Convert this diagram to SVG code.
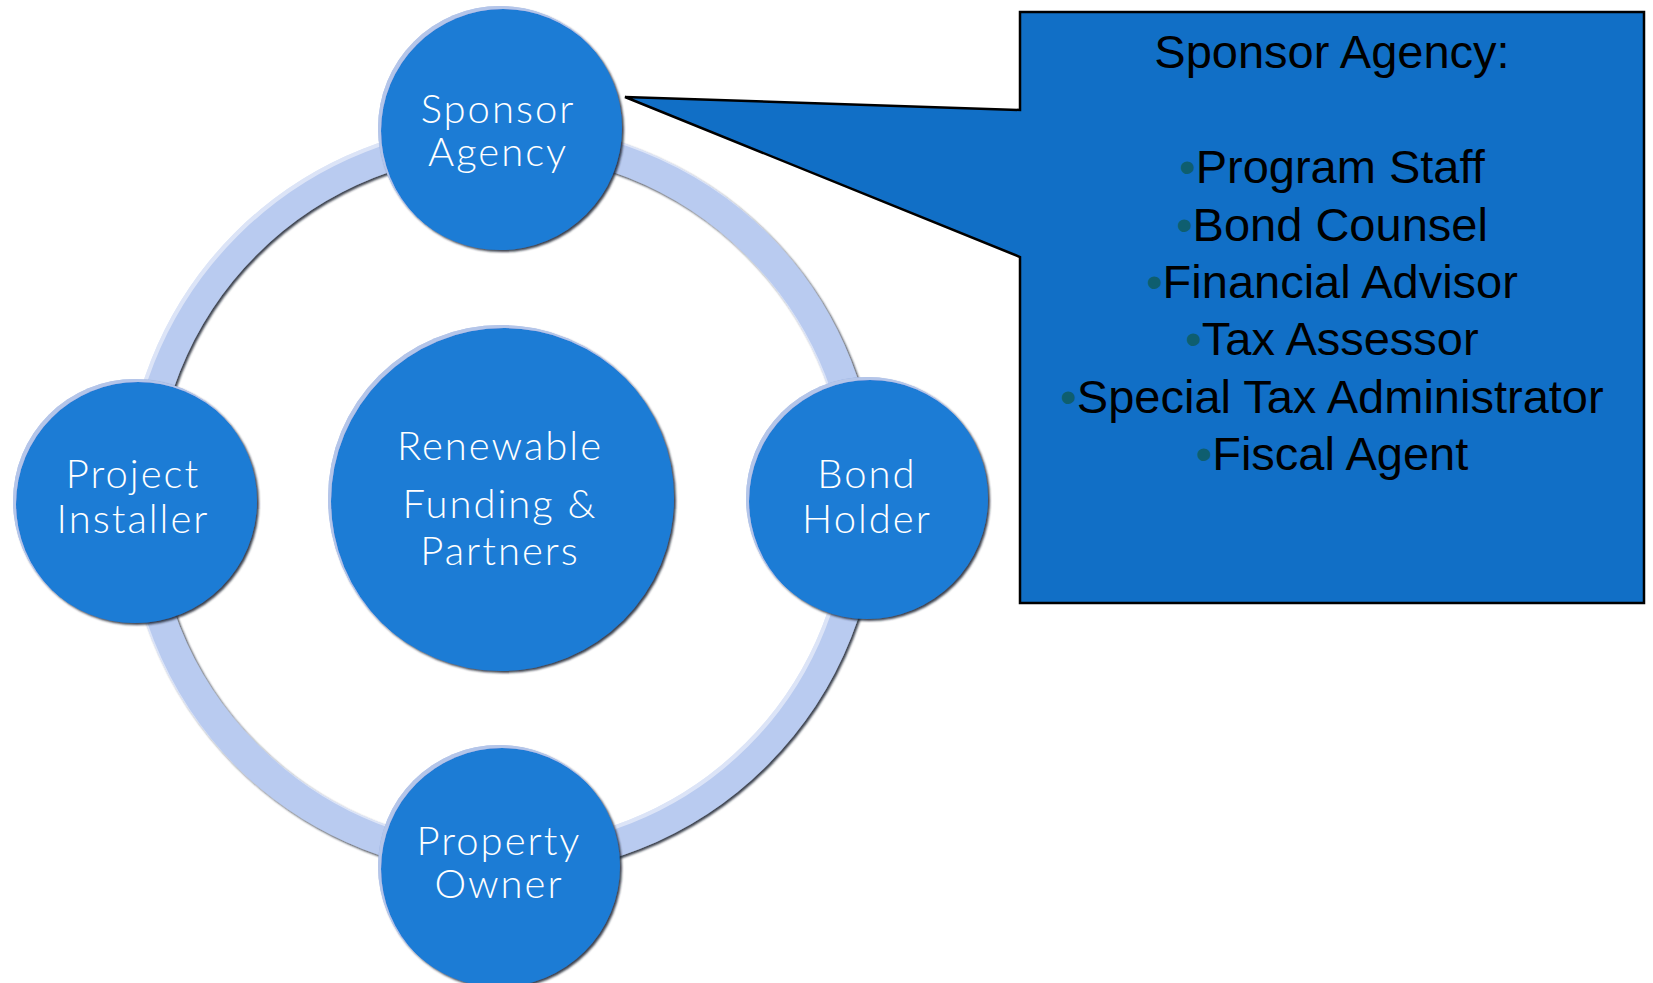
<svg xmlns="http://www.w3.org/2000/svg" width="1653" height="983" viewBox="0 0 1653 983">
  <defs>
    <filter id="bevel" x="-10%" y="-10%" width="120%" height="120%">
      <feGaussianBlur in="SourceAlpha" stdDeviation="1.2" result="b"/>
      <feOffset in="b" dx="2" dy="2" result="sh"/>
      <feFlood flood-color="#1b2230" flood-opacity="0.85"/>
      <feComposite in2="sh" operator="in" result="shadow"/>
      <feOffset in="SourceAlpha" dx="2.5" dy="2.5" result="so"/>
      <feComposite in="SourceAlpha" in2="so" operator="out" result="hl"/>
      <feFlood flood-color="#ffffff" flood-opacity="0.45"/>
      <feComposite in2="hl" operator="in" result="hlc"/>
      <feMerge>
        <feMergeNode in="shadow"/>
        <feMergeNode in="SourceGraphic"/>
        <feMergeNode in="hlc"/>
      </feMerge>
    </filter>
  </defs>
  <style>
    .node { fill: #1b7bd5; filter: url(#bevel); }
    .lbl { fill: #ffffff; font-family: Lato, "Open Sans", sans-serif; font-weight: 300; font-size: 40px; letter-spacing: 2px; text-anchor: middle; }
    .ring { fill: none; stroke: #b9cbf0; stroke-width: 31; filter: url(#bevel); }
    .callout { fill: #116fc6; stroke: #000000; stroke-width: 2.5; stroke-linejoin: miter; }
    .ct { fill: #000000; font-family: "Liberation Sans", Arial, sans-serif; font-size: 47px; text-anchor: middle; }
    .bul { fill: #0e5e6f; }
  </style>
  <rect width="1653" height="983" fill="#ffffff"/>

  <g id="connectors">
    <circle class="ring" cx="501" cy="499" r="361"/>
  </g>

  <g id="node-center">
    <circle class="node" cx="501" cy="498" r="173"/>
    <text class="lbl" x="500" y="460">Renewable</text>
    <text class="lbl" x="500" y="518">Funding &amp;</text>
    <text class="lbl" x="500" y="565">Partners</text>
  </g>

  <g id="node-sponsor">
    <circle class="node" cx="500" cy="128" r="122"/>
    <text class="lbl" x="498" y="123">Sponsor</text>
    <text class="lbl" x="498" y="166">Agency</text>
  </g>

  <g id="node-installer">
    <circle class="node" cx="135" cy="501" r="122"/>
    <text class="lbl" x="133" y="488">Project</text>
    <text class="lbl" x="133" y="533">Installer</text>
  </g>

  <g id="node-bond">
    <circle class="node" cx="867" cy="498" r="121"/>
    <text class="lbl" x="867" y="488">Bond</text>
    <text class="lbl" x="867" y="533">Holder</text>
  </g>

  <g id="node-owner">
    <circle class="node" cx="499" cy="866" r="121"/>
    <text class="lbl" x="499" y="855">Property</text>
    <text class="lbl" x="499" y="898">Owner</text>
  </g>

  <g id="callout">
    <path class="callout" d="M1020,12 H1644 V603 H1020 V257 L625,97 L1020,110 Z"/>
    <text class="ct" x="1332" y="68">Sponsor Agency:</text>
    <text class="ct" x="1332" y="183"><tspan class="bul">•</tspan>Program Staff</text>
    <text class="ct" x="1332" y="240.5"><tspan class="bul">•</tspan>Bond Counsel</text>
    <text class="ct" x="1332" y="298"><tspan class="bul">•</tspan>Financial Advisor</text>
    <text class="ct" x="1332" y="355"><tspan class="bul">•</tspan>Tax Assessor</text>
    <text class="ct" x="1332" y="412.5"><tspan class="bul">•</tspan>Special Tax Administrator</text>
    <text class="ct" x="1332" y="470"><tspan class="bul">•</tspan>Fiscal Agent</text>
  </g>
</svg>
